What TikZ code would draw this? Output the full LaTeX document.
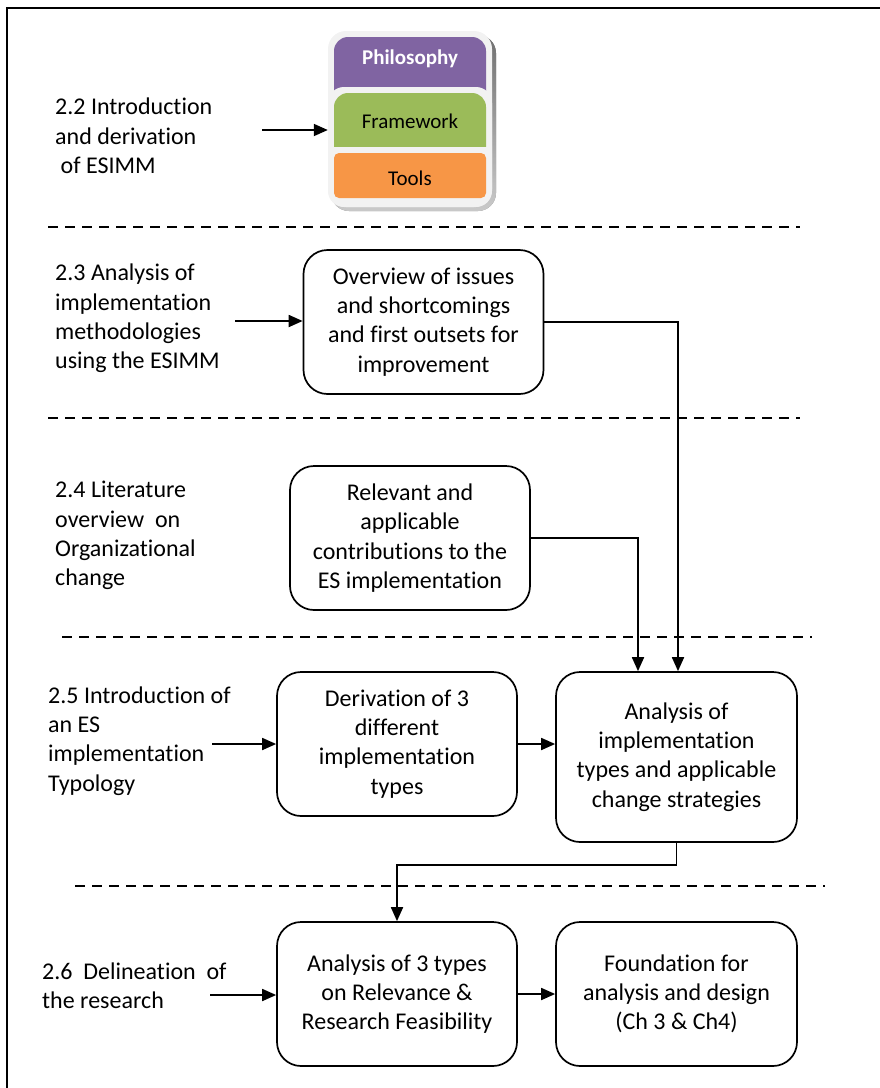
\documentclass[tikz,border=0pt]{standalone}
\usepackage{fontspec}
\setmainfont{Carlito}[Ligatures={NoCommon,NoRequired,NoContextual},Contextuals=NoAlternate,RawFeature={-liga;-clig;-calt;-dlig;-rlig}]
\usetikzlibrary{arrows.meta,calc}
\definecolor{philo}{HTML}{8064A2}
\definecolor{frame}{HTML}{9BBB59}
\definecolor{tools}{HTML}{F79646}
\definecolor{card}{HTML}{F2F2F2}
\definecolor{shade}{HTML}{B89566}
\begin{document}
\begin{tikzpicture}[x=1pt,y=-1pt,
  txt/.style={font=\fontsize{24}{29.3}\selectfont},
  lbl/.style={txt,align=left,anchor=west,inner sep=0pt},
  procbox/.style={txt,draw,line width=1.7pt,rounded corners=24pt,align=center,
    minimum width=240pt,minimum height=144pt,inner sep=0pt},
  sep/.style={line width=1.5pt,dash pattern=on 10pt off 7pt},
  flow/.style={line width=1.8pt,-{Triangle[length=14pt,width=12pt]}},
  stacktxt/.style={font=\fontsize{21}{25}\selectfont,inner sep=0pt},
]
\useasboundingbox (0,0) rectangle (880,1088);
\clip (0,0) rectangle (880,1088);
% outer frame
\draw[line width=2pt] (7,8) rectangle (900,1110);

% ESIMM stack
\fill[shade,opacity=0.7,rounded corners=18pt] (331,35) rectangle (496,211);
\node[fill=card,rounded corners=18pt,minimum width=164pt,minimum height=176pt,inner sep=0pt] (stack) at (410,119) {};
\begin{scope}
  \clip (300,0) rectangle (520,92);
  \fill[philo,rounded corners=14pt] (334,37) rectangle (486,120);
\end{scope}
\fill[card,rounded corners=16pt] (328,87) rectangle (492,207);
\begin{scope}
  \clip (300,0) rectangle (520,146);
  \fill[frame,rounded corners=14pt] (334,93) rectangle (486,170);
\end{scope}
\fill[tools,rounded corners=5pt] (334,153) rectangle (486,198);
\node[stacktxt,font=\fontsize{21}{25}\selectfont\bfseries,text=white] (phil) at (410,59) {Philosophy};
\node[stacktxt] (fw) at (410,121) {Framework};
\node[stacktxt] (tl) at (410,178) {Tools};

% section separators
\coordinate (d1a) at (48,227);  \coordinate (d1b) at (800,227);
\coordinate (d2a) at (48,418);  \coordinate (d2b) at (800,418);
\coordinate (d3a) at (62,637);  \coordinate (d3b) at (812,637);
\coordinate (d4a) at (75,886);  \coordinate (d4b) at (825,886);
\draw[sep] (d1a) -- (d1b);
\draw[sep] (d2a) -- (d2b);
\draw[sep] (d3a) -- (d3b);
\draw[sep] (d4a) -- (d4b);

% section labels
\node[lbl] (l22) at (55,136) {2.2 Introduction\\and derivation\\\ of ESIMM};
\node[lbl] (l23) at (55,318.5) {2.3 Analysis of\\implementation\\methodologies\\using the ESIMM};
\node[lbl] (l24) at (55,535.5) {2.4 Literature\\overview~ on\\Organizational\\change};
\node[lbl] (l25) at (48,741) {2.5 Introduction of\\an ES\\implementation\\Typology};
\node[lbl] (l26) at (42,985.5) {2.6~ Delineation~ of\\the research};

% process boxes
\node[procbox] (ov) at (423.5,322) {Overview of issues\\and shortcomings\\and first outsets for\\improvement};
\node[procbox] (rel) at (410,538) {Relevant and\\applicable\\contributions to the\\ES implementation};
\node[procbox] (der) at (397,744) {Derivation of 3\\different\\implementation\\types};
\node[procbox,minimum width=241pt,minimum height=170pt] (an) at (676.5,757) {Analysis of\\implementation\\types and applicable\\change strategies};
\node[procbox] (a3) at (397,994) {Analysis of 3 types\\on Relevance \&\\Research Feasibility};
\node[procbox,minimum width=241pt] (fd) at (676.5,994) {Foundation for\\analysis and design\\(Ch 3 \& Ch4)};

% incoming arrows from the section labels
\coordinate (s22) at (262,130);
\coordinate (s23) at (235,321);
\coordinate (s25) at (212,744);
\coordinate (s26) at (210,995);
\draw[flow] (s22) -- (s22 -| stack.west);
\draw[flow] (s23) -- (s23 -| ov.west);
\draw[flow] (s25) -- (s25 -| der.west);
\draw[flow] (s26) -- (s26 -| a3.west);

% flow between boxes
\draw[flow] (ov.east) -| ([xshift=1.5pt]an.north);
\draw[flow] (rel.east) -| ([xshift=-38.5pt]an.north);
\draw[flow] (der.east) -- (der.east -| an.west);
\draw[flow] (an.south) -- ++(0,22) -| (a3.north);
\draw[flow] (a3.east) -- (a3.east -| fd.west);
\end{tikzpicture}
\end{document}
